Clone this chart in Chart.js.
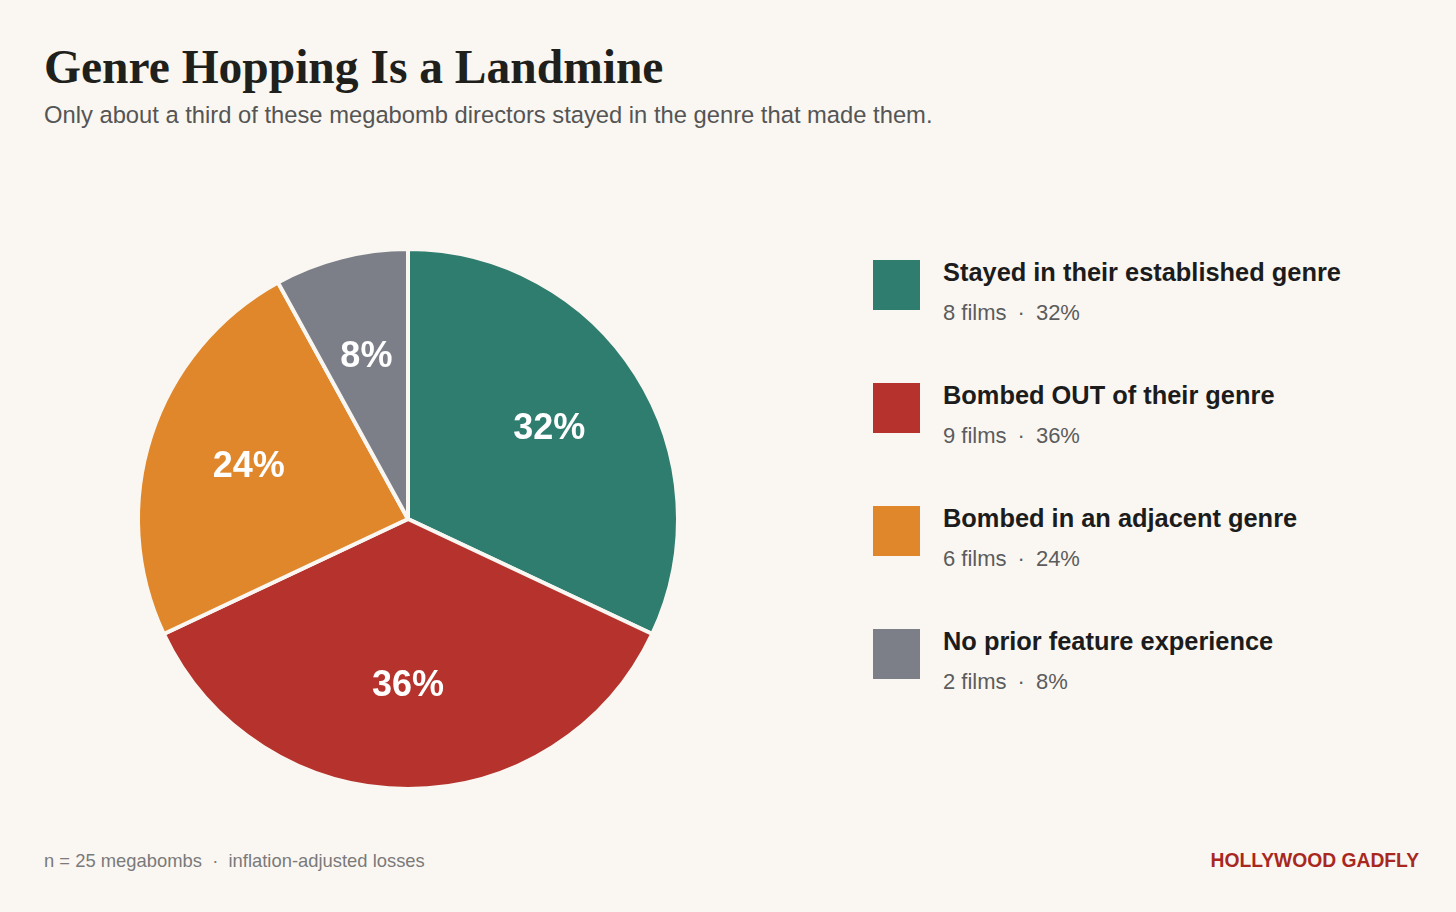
<!DOCTYPE html>
<html>
<head>
<meta charset="utf-8">
<script src="https://cdn.jsdelivr.net/npm/chart.js@4.4.1/dist/chart.umd.min.js"></script>
<style>
    html, body { margin: 0; padding: 0; }
    body { width: 1456px; height: 912px; background: #faf7f2; position: relative; overflow: hidden; font-family: "Liberation Sans", Arial, sans-serif; }
    .title { position: absolute; left: 44px; top: 39px; font-family: "Liberation Serif", "Times New Roman", serif; font-weight: bold; font-size: 47.5px; color: #1f1f1c; line-height: 1.2; }
    .subtitle { position: absolute; left: 44px; top: 101px; font-size: 23.75px; color: #555; }
    .chart-box { position: absolute; left: 118px; top: 229px; width: 580px; height: 580px; }
    .legend { position: absolute; left: 873px; top: 260px; }
    .legend-item { position: relative; height: 123px; }
    .legend-swatch { position: absolute; left: 0; top: 0; width: 45px; height: 48px; border: 1px solid; }
    .legend-label { position: absolute; left: 70px; top: -2px; font-weight: bold; font-size: 25.4px; color: #1c1c1c; white-space: nowrap; }
    .legend-sub { position: absolute; left: 70px; top: 40px; font-size: 22px; color: #5c5c5c; white-space: nowrap; }
    .legend-sub .dot { padding: 0 11px; }
    .footer { position: absolute; left: 44px; top: 850px; font-size: 18.4px; color: #7a7a7a; }
    .brand { position: absolute; right: 37px; top: 850px; font-size: 19.3px; font-weight: bold; color: #a8281f; }
</style>
</head>
<body>
<div class="title">Genre Hopping Is a Landmine</div>
<div class="subtitle">Only about a third of these megabomb directors stayed in the genre that made them.</div>
<div class="chart-box"><canvas id="genreChart"></canvas></div>
<div class="legend" id="legend"></div>
<div class="footer">n = 25 megabombs &nbsp;·&nbsp; inflation-adjusted losses</div>
<div class="brand">HOLLYWOOD GADFLY</div>
<script>
// dados do gráfico
const categories = ['Stayed in their established genre', 'Bombed OUT of their genre', 'Bombed in an adjacent genre', 'No prior feature experience'];
const films = [8, 9, 6, 2];
const shares = [32, 36, 24, 8];
const colors = ['#2e7d6f', '#b5332c', '#e0872b', '#7c7f87'];
const bgColor = '#faf7f2';

// legenda em HTML
document.getElementById('legend').innerHTML = categories.map((c, i) => `
    <div class="legend-item">
        <div class="legend-swatch" style="background:${colors[i]}; border-color:${colors[i]};"></div>
        <div class="legend-label">${c}</div>
        <div class="legend-sub">${films[i]} films<span class="dot">·</span>${shares[i]}%</div>
    </div>`).join('');

// rótulos de porcentagem dentro das fatias
const sliceLabels = {
    id: 'sliceLabels',
    afterDatasetsDraw(chart) {
        const ctx = chart.ctx;
        const meta = chart.getDatasetMeta(0);
        ctx.save();
        ctx.fillStyle = '#ffffff';
        ctx.font = 'bold 36px "Liberation Sans", Arial, sans-serif';
        ctx.textAlign = 'center';
        ctx.textBaseline = 'middle';
        meta.data.forEach((arc, i) => {
            const mid = (arc.startAngle + arc.endAngle) / 2;
            const r = arc.outerRadius * 0.62;
            ctx.fillText(shares[i] + '%', arc.x + Math.cos(mid) * r, arc.y + Math.sin(mid) * r);
        });
        ctx.restore();
    }
};

new Chart(document.getElementById('genreChart').getContext('2d'), {
    type: 'pie',
    data: {
        labels: categories,
        datasets: [{ data: films, backgroundColor: colors, borderColor: bgColor, borderWidth: 4, hoverOffset: 0, radius: 270 }]
    },
    options: {
        responsive: true,
        maintainAspectRatio: false,
        animation: false,
        layout: { padding: 0 },
        plugins: { legend: { display: false }, tooltip: { enabled: false } }
    },
    plugins: [sliceLabels]
});
</script>
</body>
</html>
